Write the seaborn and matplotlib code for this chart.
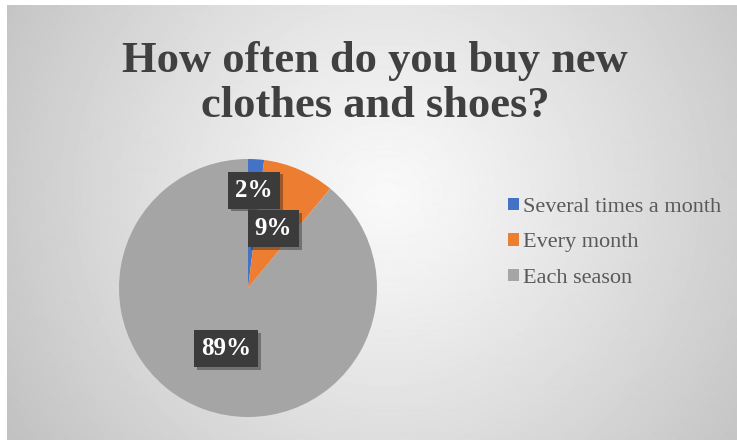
import numpy as np
import matplotlib
matplotlib.use("Agg")
import matplotlib.pyplot as plt
import matplotlib.patheffects as pe
import seaborn as sns

categories = ["Several times a month", "Every month", "Each season"]
shares = [2, 9, 89]
title = "How often do you buy new\nclothes and shoes?"

sns.set_theme(style="white")
plt.rcParams["font.family"] = ["Liberation Serif", "DejaVu Serif"]

colors = sns.color_palette(["#4472C4", "#ED7D31", "#A5A5A5"])

W, H = 737, 440
fig = plt.figure(figsize=(W / 100, H / 100), dpi=100)
fig.patch.set_facecolor("white")

# radial grey background, light in the middle
bg = fig.add_axes([7 / W, 0, (W - 7) / W, (H - 5) / H])
yy, xx = np.mgrid[0:435, 0:730]
d = np.hypot(xx - 380, yy - 190) / 450
shade = (249 - 56 * d ** 1.15) / 255
bg.imshow(shade, cmap="gray", vmin=0, vmax=1, aspect="auto", interpolation="bilinear")
bg.axis("off")

# pie
cx, cy, r = 248, 288, 129
ax = fig.add_axes([(cx - r) / W, (H - cy - r) / H, 2 * r / W, 2 * r / H])
wedges, _, autotexts = ax.pie(
    shares, colors=colors, startangle=90, counterclock=False,
    autopct=lambda p: f"{p:.0f}%", pctdistance=0.5,
    wedgeprops=dict(linewidth=0),
)
ax.set_xlim(-1, 1)
ax.set_ylim(-1, 1)
ax.set_aspect("equal")
ax.axis("off")

# the small slice label sits further out
x0, y0 = autotexts[0].get_position()
autotexts[0].set_position((x0 * 0.76 / 0.5, y0 * 0.76 / 0.5))

for t in autotexts:
    t.set_color("white")
    t.set_fontsize(18)
    t.set_fontweight("bold")
    t.set_bbox(dict(boxstyle="square,pad=0.28", facecolor="#3b3b3b", edgecolor="none"))
    t.get_bbox_patch().set_path_effects([pe.withSimplePatchShadow(offset=(2, -2), alpha=0.35)])

fig.text(375 / W, 1 - 117 / H, title, ha="center", va="baseline", fontsize=32,
         fontweight="bold", color="#404040", linespacing=1.15)

leg = fig.legend(wedges, categories, loc="upper left", bbox_to_anchor=(508 / W, 1 - 198 / H),
                 frameon=False, fontsize=16, handlelength=0.48, handleheight=0.48,
                 handletextpad=0.2, labelspacing=0.73, borderpad=0, borderaxespad=0)
for txt in leg.get_texts():
    txt.set_color("#595959")

fig.savefig("out.png", dpi=100)
